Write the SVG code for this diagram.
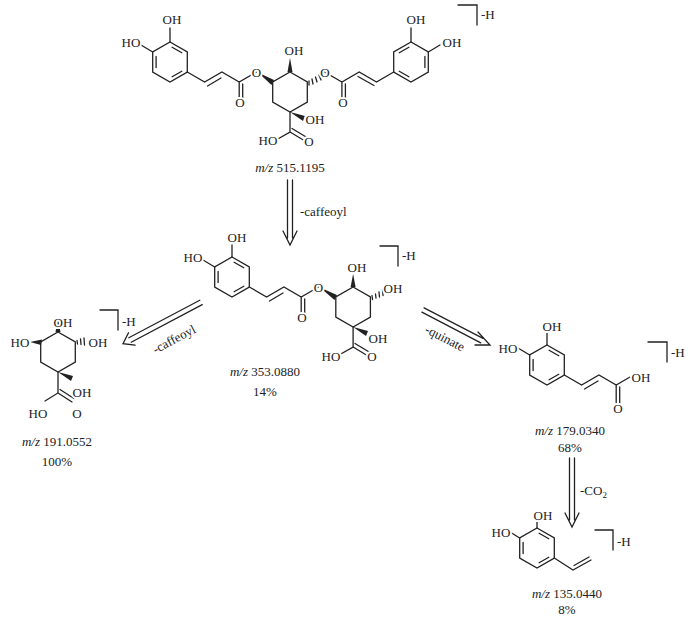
<svg xmlns="http://www.w3.org/2000/svg" width="692" height="619" viewBox="0 0 692 619">
<style>
.b{stroke:#222;stroke-width:1.3;fill:none;stroke-linecap:round}
.w{fill:#222;stroke:none}
text{font-family:"Liberation Serif","Times New Roman",serif;font-size:13px;fill:#222;text-anchor:middle}
.a{paint-order:stroke;stroke:#fff;stroke-width:4px}
.i{font-style:italic}
.l{text-anchor:start}
</style>
<defs>
<g id="ring">
<path class="b" d="M0,-20 L17.3,-10 L17.3,10 L0,20 L-17.3,10 L-17.3,-10 Z"/>
<path class="b" d="M-13.9,-5.6 L-13.9,5.6 M2.1,14.8 L11.8,9.2 M2.1,-14.8 L11.8,-9.2"/>
</g>
<path id="hx" class="b" d="M0,-20 L17.3,-10 L17.3,10 L0,20 L-17.3,10 L-17.3,-10 Z"/>
</defs>
<rect width="692" height="619" fill="#fff"/>

<g id="connectors">
<path class="b" d="M202.2,304.6 L131.2,342.2 M199.8,300.2 L128.8,337.8 M128.5,332.8 L123,343.7 L135.1,345.2"/>
<path class="b" d="M287.5,180 V238 M292.5,180 V238 M283,231 L290,245 L297,231"/>
<text class="l" x="300" y="216">-caffeoyl</text>
<text transform="translate(176,343) rotate(-28)">-caffeoyl</text>
<path class="b" d="M424.1,307.8 L483,338.4 M421.9,312.2 L480.8,342.8 M478,332 L490,345 L475,345"/>
<text transform="translate(443,342) rotate(27)">-quinate</text>
<path class="b" d="M569.5,458 V520 M574.5,458 V520 M565,513 L572,527 L579,513"/>
<text class="l" x="580" y="495">-CO<tspan font-size="9" dy="3">2</tspan></text>
</g>

<g id="m515">
<use href="#ring" x="170" y="62"/>
<path class="b" d="M170,42 V28 M152.7,52 L141,45 M187.3,72 L204.6,82 L221.9,72 L239.2,82 L256.5,72 M207.5,86 L221,78 M239.2,82 V100 M242.7,84 V100"/>
<use href="#hx" x="290" y="92"/>
<polygon class="w" points="258,72.5 271.5,85 274,80"/>
<polygon class="w" points="290,58 287.5,72 292.5,72"/>
<path class="b" d="M309,81 L309,85 M312,79 L313,84 M315.5,77 L317,82 M319,75 L321,80 M322.5,73 L325,78"/>
<path class="b" d="M324.6,72 L341.9,82 L359.2,72 L376.5,82 L393.7,72 M358,76.5 L374,85.5 M341.9,82 V100 M345.4,84 V100"/>
<use href="#ring" x="411" y="62" transform="translate(822,0) scale(-1,1)"/>
<path class="b" d="M411,42 V28 M428.3,52 L440,45"/>
<polygon class="w" points="290,112 303,121 305,116"/>
<path class="b" d="M290,112 V132 L276,140 M290,132 L305,141 M292,128.5 L307,137.5"/>
<text class="a" x="172" y="24">OH</text>
<text class="a" x="131" y="47">HO</text>
<text class="a" x="240" y="107">O</text>
<text class="a" x="256.5" y="77">O</text>
<text class="a" x="294" y="55">OH</text>
<text class="a" x="325" y="77">O</text>
<text class="a" x="343" y="107">O</text>
<text class="a" x="416" y="24">OH</text>
<text class="a" x="452" y="47">OH</text>
<text class="a" x="315" y="124">OH</text>
<text class="a" x="268" y="145">HO</text>
<text class="a" x="309" y="146">O</text>
<path class="b" d="M458,5 H477 V25"/>
<text class="l" x="481" y="19">-H</text>
<text x="290" y="172"><tspan class="i">m/z</tspan> 515.1195</text>
</g>

<g id="m353">
<use href="#ring" x="232" y="277"/>
<path class="b" d="M232,257 V245 M214.7,267 L203,260 M249.3,287 L266.6,297 L283.9,287 L301.2,297 L318.5,287 M269.5,301 L283,293 M301.2,297 V315 M304.7,299 V315"/>
<use href="#hx" x="353.1" y="307"/>
<polygon class="w" points="320,287.5 334.5,300 337,295"/>
<polygon class="w" points="353.1,274 350.6,287 355.6,287"/>
<path class="b" d="M372,295.5 L372.5,299.5 M375.5,294 L376,298 M379,292 L379.5,297 M382.5,290 L383,295.5"/>
<polygon class="w" points="353.1,327 366,336 368,331"/>
<path class="b" d="M353.1,327 V347 L339,355 M353.1,347 L368,356 M355,343.5 L370,352.5"/>
<text class="a" x="237" y="242">OH</text>
<text class="a" x="193" y="262">HO</text>
<text class="a" x="302" y="322">O</text>
<text class="a" x="318.5" y="292">O</text>
<text class="a" x="357" y="272">OH</text>
<text class="a" x="393" y="293">OH</text>
<text class="a" x="378" y="343">OH</text>
<text class="a" x="331" y="361">HO</text>
<text class="a" x="372" y="361">O</text>
<path class="b" d="M380,246 H398 V266"/>
<text class="l" x="402" y="260">-H</text>
<text x="265" y="376"><tspan class="i">m/z</tspan> 353.0880</text>
<text x="265" y="396">14%</text>
</g>

<g id="m191">
<use href="#hx" x="58" y="352"/>
<polygon class="w" points="58,318 55.5,332 60.5,332"/>
<polygon class="w" points="30,342 42,339.5 41,345"/>
<path class="b" d="M77,340.5 L77.5,344 M80.5,339 L81,344.5 M84,338 L84.5,345"/>
<polygon class="w" points="58,372 71,381 73,376"/>
<path class="b" d="M58,372 V393 L45,401 M58,393 L72,402 M60,389.5 L74,398.5"/>
<text class="a" x="63" y="327">OH</text>
<text class="a" x="20" y="347">HO</text>
<text class="a" x="98" y="347">OH</text>
<text class="a" x="82" y="397">OH</text>
<text class="a" x="38" y="418">HO</text>
<text class="a" x="77" y="418">O</text>
<path class="b" d="M100,310 H118 V330"/>
<text class="l" x="122" y="326">-H</text>
<text x="57" y="446"><tspan class="i">m/z</tspan> 191.0552</text>
<text x="57" y="466">100%</text>
</g>

<g id="m179">
<use href="#ring" x="547" y="365"/>
<path class="b" d="M547,345 V333 M529.7,355 L518,348 M564.3,375 L581.6,385 L598.9,375 L616.2,385 L630,377 M584.5,389 L598,381 M616.2,385 V403 M619.7,387 V403"/>
<text class="a" x="552" y="331">OH</text>
<text class="a" x="508" y="353">HO</text>
<text class="a" x="641" y="382">OH</text>
<text class="a" x="618" y="413">O</text>
<path class="b" d="M648,342 H667 V362"/>
<text class="l" x="671" y="357">-H</text>
<text x="570" y="435"><tspan class="i">m/z</tspan> 179.0340</text>
<text x="570" y="452">68%</text>
</g>

<g id="m135">
<use href="#ring" x="537" y="548"/>
<path class="b" d="M537,528 V518 M519.7,538 L510,532 M554.3,558 L573,570 L591,560 M574,565.5 L589,557"/>
<text class="a" x="543" y="520">OH</text>
<text class="a" x="501" y="537">HO</text>
<path class="b" d="M595,530 H613 V550"/>
<text class="l" x="617" y="546">-H</text>
<text x="567" y="598"><tspan class="i">m/z</tspan> 135.0440</text>
<text x="567" y="614">8%</text>
</g>
</svg>
